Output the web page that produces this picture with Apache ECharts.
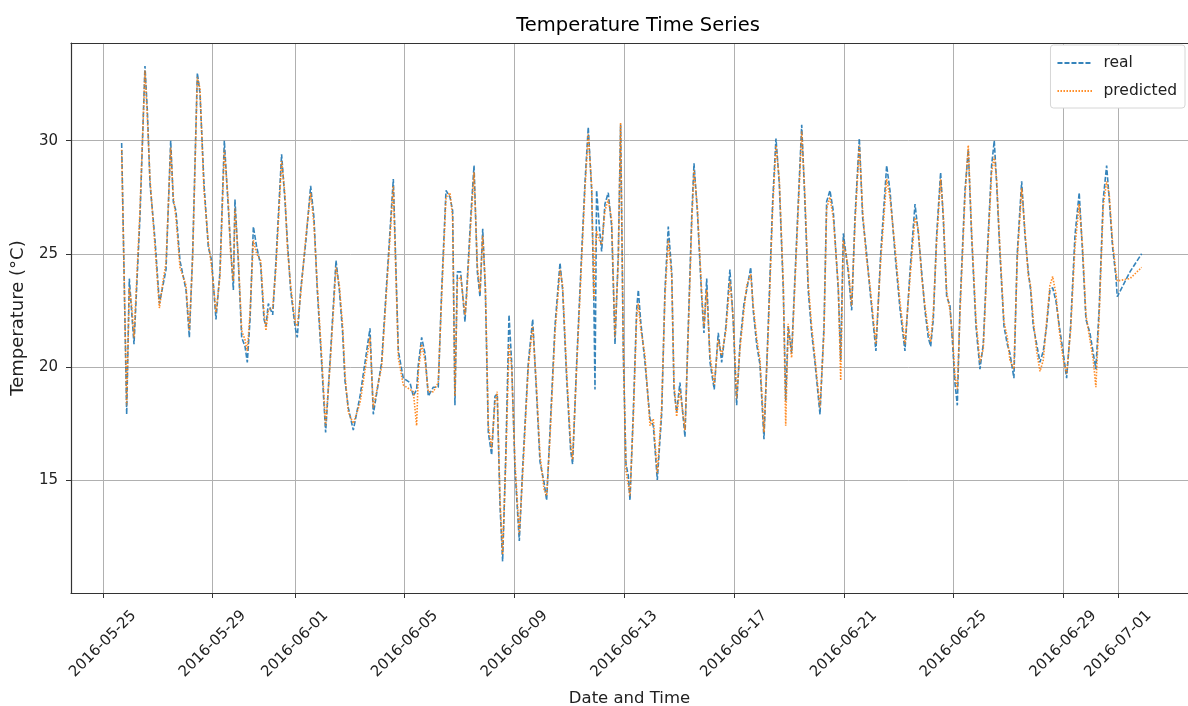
<!DOCTYPE html>
<html><head><meta charset="utf-8">
<script src="https://cdn.jsdelivr.net/npm/echarts@6/dist/echarts.min.js"></script>
<style>html,body{margin:0;padding:0;background:#fff}#c{width:1188px;height:706px}</style>
</head><body><div id="c"></div>
<script>
// ---- data ----
const startTime = '2016-05-25T00:00:00';
const hoursFromStart = [
16.4,20.8,23.1,25.2,27.2,32.4,36.8,38.9,41.2,45.6,49.4,52.9,55.2,59.3,61.6,63.9,67.4,72.7,75.6,78.5,82.6,84.9,88.4,92.2,95.1,98.9,102.4,106.2,109.7,111.7,114.1,115.5,118.4,121.4,124.3,126.3,128.7,131.6,134.5,138.0,140.9,142.6,144.7,148.5,151.4,156.3,159.3,161.3,164.2,168.0,170.0,173.0,177.6,181.7,184.6,187.5,191.3,194.8,198.6,203.9,206.8,209.7,211.7,214.6,
219.0,224.9,233.6,236.5,243.8,254.0,258.4,262.7,268.6,271.5,274.4,275.9,278.8,281.7,284.6,289.0,293.3,296.3,300.1,303.6,305.9,307.9,310.0,312.9,316.7,318.2,321.7,324.6,327.5,329.8,332.2,334.5,337.1,340.0,342.9,344.9,347.3,349.6,352.5,355.2,357.5,360.4,364.2,367.1,372.1,375.9,379.4,382.3,385.8,388.1,391.0,395.4,399.8,402.1,405.6,409.1,410.8,414.4,418.7,421.6,424.5,427.5,429.5,430.4,431.8,434.2,436.2,439.1,442.0,445.0,447.9,450.8,452.8,
455.2,457.5,459.5,461.0,463.9,466.9,468.3,470.4,474.1,478.5,481.4,484.9,488.7,491.6,494.5,497.5,499.5,501.8,504.7,509.1,512.0,515.0,517.0,519.9,523.7,525.7,528.1,531.0,534.7,538.2,541.2,544.9,548.4,551.3,554.3,557.2,560.7,563.1,566.6,568.8,571.8,574.7,578.2,581.9,585.8,588.7,591.6,595.1,597.2,599.4,602.4,606.2,611.2,614.0,616.9,619.9,622.8,627.2,630.7,633.0,635.9,638.8,643.2,645.3,647.6,651.9,654.9,657.8,661.6,664.5,667.4,670.9,676.1,680.3,685.5,688.4,692.8,697.1,701.5,705.9,
710.3,713.2,716.1,719.0,721.9,724.0,726.3,729.2,732.7,735.0,738.0,740.9,743.2,745.2,747.3,749.6,754.0,756.9,759.8,763.6,767.1,770.0,773.5,777.3,779.6,781.7,784.6,788.1,791.0,793.3,796.8,799.7,803.6,806.5,809.4,811.4,813.7,816.7,819.6,822.5,825.4,828.3,830.7,833.6,836.5,840.0,842.9,846.4,850.2,853.9,856.9,859.8,863.3,866.2,868.5,871.4,874.9,877.9,880.2,883.1,886.0,887.2,898.3,908.5
];
const realTemp = [
29.9,17.9,23.9,22.4,21.0,26.6,33.3,31.3,28.1,25.6,22.8,23.7,24.3,30.0,27.3,26.9,24.7,23.4,21.3,25.0,33.0,32.1,28.1,25.3,24.7,22.1,24.2,30.0,27.0,25.3,23.4,27.4,24.7,21.3,20.9,20.2,22.1,26.2,25.3,24.5,22.1,21.8,22.8,22.3,24.7,29.4,27.3,25.6,23.4,21.8,21.3,23.4,25.6,28.0,26.6,23.4,20.2,17.1,20.2,24.7,23.4,21.5,19.4,18.2,
17.2,18.7,21.7,17.9,20.2,28.3,20.7,19.5,19.3,18.7,19.0,20.1,21.3,20.6,18.7,19.1,19.1,23.4,27.8,27.5,26.9,18.3,24.2,24.2,22.0,23.4,26.6,28.9,24.2,23.1,26.1,23.4,17.1,16.1,18.7,18.8,13.9,11.4,16.3,22.3,20.2,15.5,12.3,15.5,20.2,22.1,18.7,15.8,14.9,14.1,17.1,21.8,24.6,23.4,19.5,16.3,15.7,20.2,25.0,28.1,30.6,27.8,22.6,19.0,27.8,26.2,25.1,27.2,27.7,26.2,21.0,25.0,30.7,
20.5,15.7,15.2,14.1,18.0,22.6,23.4,22.0,20.2,17.7,17.4,15.0,17.9,23.4,26.2,24.2,19.0,18.0,19.3,16.9,21.8,26.6,29.0,26.9,23.1,21.5,23.9,20.2,19.0,21.5,20.2,21.8,24.3,22.0,18.3,21.0,22.8,23.4,24.4,22.5,21.0,20.1,16.8,21.8,27.3,30.1,28.1,23.4,18.5,21.8,20.6,25.0,30.7,27.3,23.4,21.5,20.2,17.9,21.8,27.3,27.8,26.9,23.4,20.3,25.9,24.2,22.5,26.6,30.1,26.6,25.3,23.4,20.7,25.0,28.9,27.8,25.0,22.6,20.7,24.2,
27.2,25.9,24.2,22.5,21.3,20.9,22.1,25.8,28.6,26.6,23.1,22.7,21.0,19.3,18.3,22.6,27.8,29.6,25.8,21.8,19.9,21.0,25.0,28.9,30.0,28.1,25.0,21.8,21.0,20.6,19.5,25.0,28.2,25.8,24.2,23.4,21.8,21.0,20.2,20.7,21.8,23.4,23.5,22.9,21.8,20.6,19.5,21.8,25.8,27.7,25.0,22.1,21.5,20.6,19.9,22.6,27.4,28.9,27.4,25.3,24.0,23.1,24.2,25.0
];
const predictedTemp = [
29.6,18.3,23.5,22.7,21.3,26.9,33.1,31.0,28.3,25.3,22.6,23.9,24.6,29.7,27.5,26.6,24.4,23.6,21.6,24.8,32.8,32.3,27.8,25.5,24.4,22.4,24.0,29.6,27.3,25.0,23.8,27.0,24.9,21.6,21.2,20.7,22.4,25.6,25.0,24.7,22.4,21.6,22.5,22.6,24.4,29.1,27.6,25.3,23.6,22.0,21.8,23.2,25.8,27.7,26.3,23.6,20.5,17.4,20.0,24.4,23.6,21.8,19.7,18.0,
17.5,18.4,21.3,18.2,20.0,28.0,20.4,19.2,19.0,18.9,17.4,19.8,21.0,20.3,18.9,18.9,19.3,23.1,27.5,27.7,26.6,18.7,23.8,24.0,22.3,23.1,26.3,28.6,24.5,23.3,25.8,23.7,17.4,16.4,18.4,18.9,14.2,11.7,16.0,21.0,20.0,15.8,12.6,15.2,20.0,21.8,19.0,16.1,14.6,14.3,16.8,21.5,24.3,23.6,19.8,16.6,15.9,20.0,24.7,27.8,30.3,28.0,23.0,25.0,26.0,25.6,25.4,26.9,27.4,26.5,21.3,24.7,30.8,
20.8,15.4,14.8,14.3,17.7,22.3,22.8,21.7,20.5,17.4,17.7,15.3,18.2,23.1,25.6,24.0,19.3,17.8,19.0,17.2,21.5,26.3,28.7,27.1,23.3,21.8,23.4,20.5,19.2,21.2,20.5,21.6,23.8,22.2,18.6,20.8,22.5,23.6,24.1,22.7,21.3,20.3,17.1,21.5,27.0,29.8,28.3,23.7,17.4,21.9,20.4,24.7,30.4,27.6,23.7,21.8,20.4,18.2,21.5,27.0,27.5,26.6,23.6,19.4,25.6,24.4,22.7,26.3,29.8,26.9,25.0,23.6,21.0,24.7,28.3,27.5,25.3,22.9,21.0,23.9,
26.6,26.1,24.0,22.7,21.6,21.1,22.4,25.5,28.3,26.8,23.3,22.5,21.3,19.6,19.0,22.3,27.5,29.8,26.0,22.1,20.2,20.8,24.7,28.6,29.3,28.3,25.2,22.0,21.3,20.3,19.9,24.7,27.9,26.0,24.0,23.6,22.1,20.7,19.8,20.3,22.0,23.6,24.0,23.2,21.6,20.3,19.7,21.6,25.3,27.2,25.3,22.3,21.2,20.3,19.1,22.3,27.1,28.2,27.6,25.5,24.2,23.8,23.9,24.4
];
const tickDates = ['2016-05-25','2016-05-29','2016-06-01','2016-06-05','2016-06-09','2016-06-13','2016-06-17','2016-06-21','2016-06-25','2016-06-29','2016-07-01'];
const yTicks = [15, 20, 25, 30];
const xRange = ['2016-05-23T20:06:00', '2016-07-03T13:04:00'];
const yRange = [10, 34.32];

// ---- build ----
const FONT = 'DejaVu Sans';
const t0 = new Date(startTime).getTime();
const times = hoursFromStart.map(h => t0 + h * 3600000);
const realData = times.map((t, i) => [t, realTemp[i]]);
const predData = times.map((t, i) => [t, predictedTemp[i]]);
const tickTs = tickDates.map(d => new Date(d + 'T00:00:00').getTime());
const xMin = new Date(xRange[0]).getTime();
const xMax = new Date(xRange[1]).getTime();
const pad2 = n => (n < 10 ? '0' : '') + n;
const fmtDate = v => { const d = new Date(v); return d.getFullYear() + '-' + pad2(d.getMonth() + 1) + '-' + pad2(d.getDate()); };

const chart = echarts.init(document.getElementById('c'), null, {renderer: 'canvas'});
chart.setOption({
  animation: false,
  backgroundColor: '#fff',
  textStyle: {fontFamily: FONT},
  title: {
    text: 'Temperature Time Series', left: 633, top: 11, textAlign: 'center',
    textStyle: {fontFamily: FONT, fontSize: 19.5, fontWeight: 'normal', color: '#000'}
  },
  legend: {
    data: ['real', 'predicted'], orient: 'vertical', right: 3, top: 45,
    itemWidth: 35, itemHeight: 14, itemGap: 12, padding: [10, 8, 9, 6],
    itemStyle: {opacity: 0},
    borderColor: '#d6d6d6', borderWidth: 1, borderRadius: 3, backgroundColor: '#fff',
    textStyle: {fontFamily: FONT, fontSize: 15.5, color: '#222', padding: [0, 0, 0, 6]}
  },
  grid: {left: 71, right: 0, top: 43, bottom: 113, containLabel: false, outerBoundsMode: 'none'},
  xAxis: [{
    type: 'value', min: xMin, max: xMax, position: 'bottom',
    axisLine: {show: true, lineStyle: {color: '#333', width: 1.2}},
    axisTick: {show: true, customValues: tickTs, length: 5, lineStyle: {color: '#333', width: 1}},
    axisLabel: {
      customValues: tickTs, formatter: fmtDate, rotate: 45, align: 'center', verticalAlign: 'middle',
      margin: 51, fontFamily: FONT, fontSize: 15, color: '#222'
    },
    splitLine: {show: true, lineStyle: {color: '#b0b0b0', width: 1}},
    name: 'Date and Time', nameLocation: 'middle', nameGap: 97,
    nameTextStyle: {fontFamily: FONT, fontSize: 16.5, color: '#222'}
  }, {
    type: 'value', min: xMin, max: xMax, position: 'top',
    axisLine: {show: true, lineStyle: {color: '#333', width: 1.2}},
    axisTick: {show: false}, axisLabel: {show: false}, splitLine: {show: false}
  }],
  yAxis: {
    type: 'value', min: yRange[0], max: yRange[1], interval: 5,
    axisLine: {show: true, lineStyle: {color: '#333', width: 1.2}},
    axisTick: {show: true, customValues: yTicks, length: 5, lineStyle: {color: '#333'}},
    axisLabel: {customValues: yTicks, margin: 13, fontFamily: FONT, fontSize: 15, color: '#222'},
    splitLine: {show: true, lineStyle: {color: '#b0b0b0', width: 1}},
    name: 'Temperature (°C)', nameLocation: 'middle', nameGap: 44, nameRotate: 90,
    nameTextStyle: {fontFamily: FONT, fontSize: 18, color: '#222'}
  },
  series: [{
    name: 'real', type: 'line', data: realData, xAxisIndex: 0, showSymbol: false, symbol: 'none',
    itemStyle: {color: '#1f77b4'},
    lineStyle: {color: '#1f77b4', width: 1.6, type: [5, 2], opacity: 0.9}, z: 2
  }, {
    name: 'predicted', type: 'line', data: predData, xAxisIndex: 0, showSymbol: false, symbol: 'none',
    itemStyle: {color: '#ff7f0e'},
    lineStyle: {color: '#ff7f0e', width: 1.6, type: [1.5, 1.5], opacity: 0.9}, z: 3
  }]
});
</script>
</body></html>
